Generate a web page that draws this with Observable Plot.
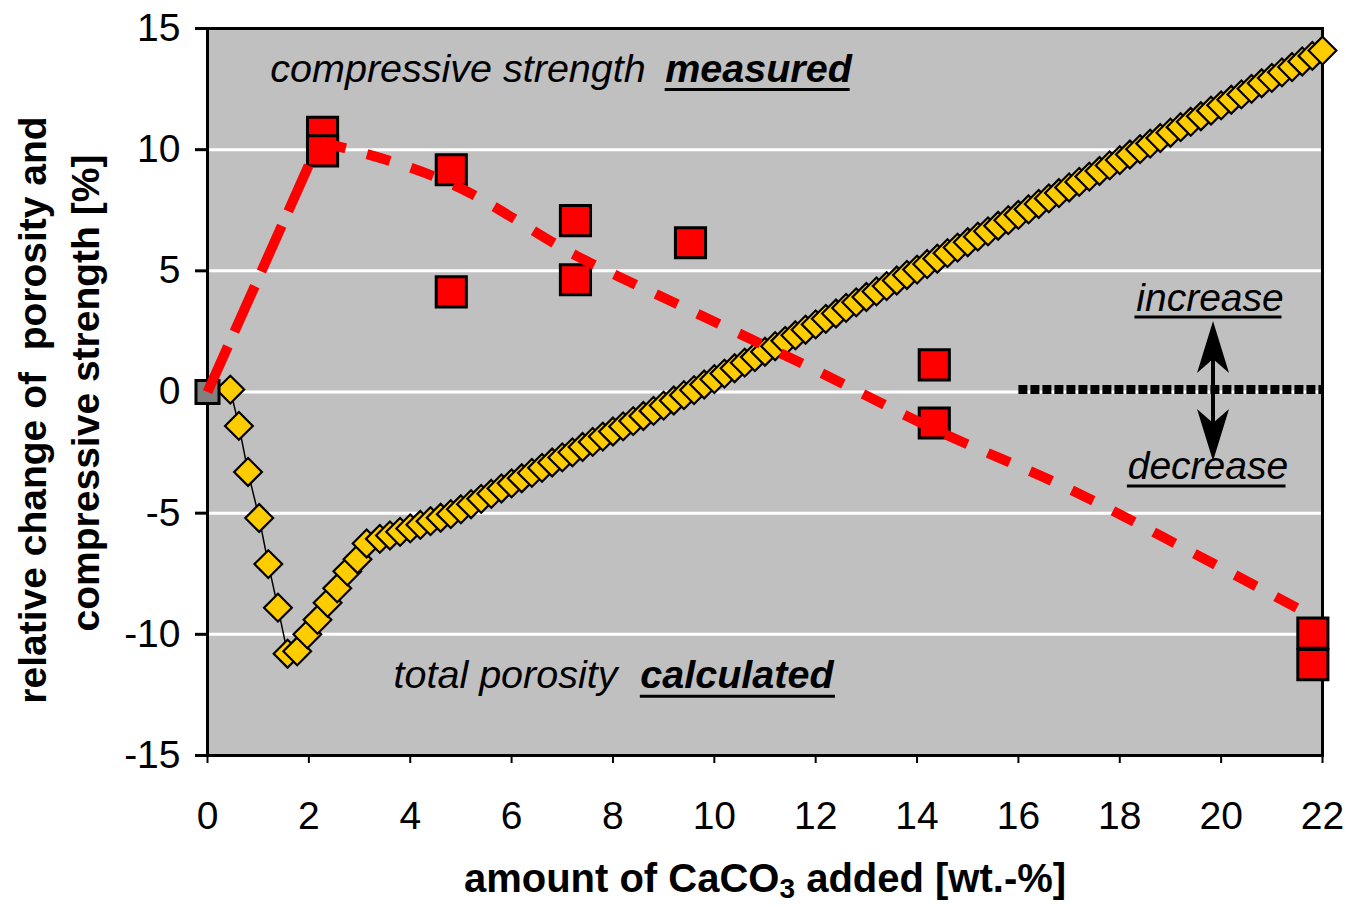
<!DOCTYPE html>
<html>
<head>
<meta charset="utf-8">
<script src="https://cdn.jsdelivr.net/npm/d3@7"></script>
<script src="https://cdn.jsdelivr.net/npm/@observablehq/plot@0.6"></script>
<style>
  html, body { margin: 0; padding: 0; background: #ffffff; }
  #chart { width: 1347px; height: 907px; }
</style>
</head>
<body>
<div id="chart"></div>
<script>
// Calculated total porosity change vs. CaCO3 addition (wt.-%)
const porosityX = [
  0.45, 0.62, 0.80, 1.02, 1.20, 1.39, 1.58, 1.77, 1.97, 2.17, 2.37, 2.56, 2.76, 2.96, 3.14,
  3.4, 3.6, 3.8, 4.0, 4.2, 4.4, 4.6, 4.8, 5.0, 5.2, 5.4, 5.6, 5.8, 6.0, 6.2, 6.4, 6.6, 6.8,
  7.0, 7.2, 7.4, 7.6, 7.8, 8.0, 8.2, 8.4, 8.6, 8.8, 9.0, 9.2, 9.4, 9.6, 9.8, 10.0, 10.2,
  10.4, 10.6, 10.8, 11.0, 11.2, 11.4, 11.6, 11.8, 12.0, 12.2, 12.4, 12.6, 12.8, 13.0, 13.2,
  13.4, 13.6, 13.8, 14.0, 14.2, 14.4, 14.6, 14.8, 15.0, 15.2, 15.4, 15.6, 15.8, 16.0, 16.2,
  16.4, 16.6, 16.8, 17.0, 17.2, 17.4, 17.6, 17.8, 18.0, 18.2, 18.4, 18.6, 18.8, 19.0, 19.2,
  19.4, 19.6, 19.8, 20.0, 20.2, 20.4, 20.6, 20.8, 21.0, 21.2, 21.4, 21.6, 21.8, 22.0
];
const porosityY = [
  0.1, -1.4, -3.3, -5.2, -7.1, -8.9, -10.8, -10.7, -10.0, -9.4, -8.7, -8.1, -7.4, -6.9, -6.25,
  -6.06, -5.92, -5.77, -5.63, -5.48, -5.33, -5.19, -5.04, -4.84, -4.63, -4.41, -4.20, -3.98, -3.77, -3.56, -3.34, -3.13, -2.91,
  -2.70, -2.49, -2.27, -2.06, -1.84, -1.63, -1.42, -1.20, -0.99, -0.78, -0.56, -0.35, -0.13, 0.08, 0.31, 0.53, 0.76,
  0.98, 1.21, 1.44, 1.66, 1.89, 2.11, 2.34, 2.57, 2.79, 3.02, 3.24, 3.47, 3.70, 3.92, 4.15,
  4.37, 4.60, 4.83, 5.05, 5.28, 5.50, 5.73, 5.96, 6.18, 6.41, 6.63, 6.86, 7.09, 7.31, 7.54,
  7.76, 7.99, 8.21, 8.44, 8.67, 8.89, 9.12, 9.35, 9.57, 9.80, 10.02, 10.25, 10.48, 10.70, 10.93,
  11.15, 11.38, 11.61, 11.83, 12.06, 12.28, 12.51, 12.74, 12.96, 13.19, 13.41, 13.64, 13.87, 14.09
];

// Measured compressive strength change
const strengthX = [2.27, 2.27, 4.81, 4.81, 7.26, 7.26, 9.53, 14.34, 14.34, 21.81, 21.81];
const strengthY = [10.72, 9.95, 9.17, 4.13, 7.07, 4.63, 6.16, 1.12, -1.28, -9.95, -11.25];

// Reference mix (no CaCO3)
const referenceX = [0];
const referenceY = [0];

// Strength trend: rise to the maximum, then the decline
const riseX = [0, 2.2];
const riseY = [0, 10.3];
const fallX = [2.27, 4.8, 7.3, 9.5, 12.0, 14.3, 17.0, 19.5, 21.8];
const fallY = [10.3, 8.6, 5.6, 3.4, 0.9, -1.5, -4.0, -6.7, -9.25];

// Zero line on the right and the increase / decrease arrow
const zeroLineX = [16.0, 22.0];
const zeroLineY = [0.1, 0.1];
const arrowX = 19.84;
const arrowTop = 2.93;
const arrowBottom = -2.85;

// Axis ticks
const xTicks = [0, 2, 4, 6, 8, 10, 12, 14, 16, 18, 20, 22];
const yTicks = [-15, -10, -5, 0, 5, 10, 15];
const gridValues = [-10, -5, 0, 5, 10];

// Annotation texts
const seriesLabels = [
  {x: 1.24, y: 13.3, text: "compressive strength", weight: "normal"},
  {x: 9.03, y: 13.3, text: "measured", weight: "bold"},
  {x: 3.67, y: -11.7, text: "total porosity", weight: "normal"},
  {x: 8.54, y: -11.7, text: "calculated", weight: "bold"}
];
const underlines = [
  {x1: 9.03, x2: 12.68, y: 12.48},
  {x1: 8.54, x2: 12.39, y: -12.56},
  {x1: 18.3, x2: 21.2, y: 3.1},
  {x1: 18.15, x2: 21.28, y: -3.88}
];
const directionLabels = [
  {x: 19.78, y: 3.84, text: "increase"},
  {x: 19.74, y: -3.06, text: "decrease"}
];
const yLabelLines = ["relative change of  porosity and", "compressive strength [%]"];
const xLabel = "amount of CaCO3 added [wt.-%]";

const porosity = porosityX.map((x, i) => ({x, y: porosityY[i]}));
const strength = strengthX.map((x, i) => ({x, y: strengthY[i]}));
const reference = referenceX.map((x, i) => ({x, y: referenceY[i]}));
const rise = riseX.map((x, i) => ({x, y: riseY[i]}));
const fall = fallX.map((x, i) => ({x, y: fallY[i]}));
const zeroLine = zeroLineX.map((x, i) => ({x, y: zeroLineY[i]}));

// Filled arrowheads (tip at the symbol origin)
const headUp = {
  draw(ctx) {
    ctx.moveTo(0, 0);
    ctx.lineTo(16, 52);
    ctx.lineTo(0, 38);
    ctx.lineTo(-16, 52);
    ctx.closePath();
  }
};
const headDown = {
  draw(ctx) {
    ctx.moveTo(0, 0);
    ctx.lineTo(16, -52);
    ctx.lineTo(0, -38);
    ctx.lineTo(-16, -52);
    ctx.closePath();
  }
};

const FONT = "'Liberation Sans', Arial, Helvetica, sans-serif";

const chart = Plot.plot({
  width: 1347,
  height: 907,
  marginLeft: 207,
  marginRight: 25,
  marginTop: 28,
  marginBottom: 152,
  style: {fontFamily: FONT, background: "#ffffff", color: "#000000"},
  x: {domain: [0, 22]},
  y: {domain: [-15, 15]},
  marks: [
    Plot.frame({fill: "#c0c0c0"}),
    Plot.ruleY(gridValues, {stroke: "#ffffff", strokeWidth: 3}),
    Plot.frame({stroke: "#000000", strokeWidth: 3}),
    Plot.axisX({
      ticks: xTicks, tickFormat: d => String(d), tickSize: 8, tickPadding: 38, fontSize: 39, label: null,
      stroke: "#000000", strokeWidth: 2
    }),
    Plot.axisY({
      ticks: yTicks, tickFormat: d => String(d), tickSize: 12, tickPadding: 15, fontSize: 39, label: null,
      stroke: "#000000", strokeWidth: 3
    }),

    // calculated porosity
    Plot.line(porosity, {x: "x", y: "y", stroke: "#000000", strokeWidth: 1.5}),
    Plot.dot(porosity, {
      x: "x", y: "y", symbol: "diamond2", r: 12.5,
      fill: "#ffcc00", stroke: "#000000", strokeWidth: 2.2
    }),

    // measured strength
    Plot.dot(strength, {
      x: "x", y: "y", symbol: "square", r: 17,
      fill: "#ff0000", stroke: "#000000", strokeWidth: 3
    }),
    Plot.dot(reference, {
      x: "x", y: "y", symbol: "square", r: 13,
      fill: "#808080", stroke: "#000000", strokeWidth: 3
    }),

    // strength trend
    Plot.line(rise, {
      x: "x", y: "y", stroke: "#ff0000", strokeWidth: 10,
      strokeDasharray: "50,16", strokeLinecap: "butt"
    }),
    Plot.line(fall, {
      x: "x", y: "y", stroke: "#ff0000", strokeWidth: 10,
      strokeDasharray: "24,22", strokeLinecap: "butt", curve: "monotone-x"
    }),

    // zero reference and direction arrow
    Plot.line(zeroLine, {
      x: "x", y: "y", stroke: "#000000", strokeWidth: 9,
      strokeDasharray: "9,3", strokeLinecap: "butt"
    }),
    Plot.ruleX([arrowX], {y1: arrowBottom + 1.5, y2: arrowTop - 1.5, stroke: "#000000", strokeWidth: 4}),
    Plot.dot([{x: arrowX, y: arrowTop}], {x: "x", y: "y", symbol: headUp, fill: "#000000", stroke: null}),
    Plot.dot([{x: arrowX, y: arrowBottom}], {x: "x", y: "y", symbol: headDown, fill: "#000000", stroke: null}),

    // annotations
    Plot.text(seriesLabels.filter(d => d.weight === "normal"), {
      x: "x", y: "y", text: "text", textAnchor: "start", fontSize: 39.5, fontStyle: "italic", fill: "#000000"
    }),
    Plot.text(seriesLabels.filter(d => d.weight === "bold"), {
      x: "x", y: "y", text: "text", textAnchor: "start", fontSize: 39.5, fontStyle: "italic", fontWeight: "bold", fill: "#000000"
    }),
    Plot.text(directionLabels, {
      x: "x", y: "y", text: "text", textAnchor: "middle", fontSize: 39, fontStyle: "italic", fill: "#000000"
    }),
    Plot.ruleY(underlines, {x1: "x1", x2: "x2", y: "y", stroke: "#000000", strokeWidth: 3}),

    // axis titles
    Plot.text([yLabelLines[0]], {
      frameAnchor: "left", textAnchor: "middle", lineAnchor: "middle",
      dx: -174, dy: 18, rotate: -90, fontSize: 39, fontWeight: "bold", fill: "#000000"
    }),
    Plot.text([yLabelLines[1]], {
      frameAnchor: "left", textAnchor: "middle", lineAnchor: "middle",
      dx: -121, dy: 1, rotate: -90, fontSize: 39, fontWeight: "bold", fill: "#000000"
    }),
    Plot.text([xLabel], {
      frameAnchor: "bottom", textAnchor: "middle", lineAnchor: "middle",
      dx: 0, dy: 124, fontSize: 40, fontWeight: "bold", fill: "#000000"
    })
  ]
});

// Subscript the "3" in CaCO3
d3.select(chart).selectAll("text").filter(function () {
  return this.textContent === xLabel;
}).each(function () {
  const t = d3.select(this);
  t.text(null);
  t.append("tspan").text("amount of CaCO");
  t.append("tspan").attr("dy", "0.2em").attr("font-size", "0.7em").text("3");
  t.append("tspan").attr("dy", "-0.14em").text(" added [wt.-%]");
});

document.getElementById("chart").appendChild(chart);
</script>
</body>
</html>
